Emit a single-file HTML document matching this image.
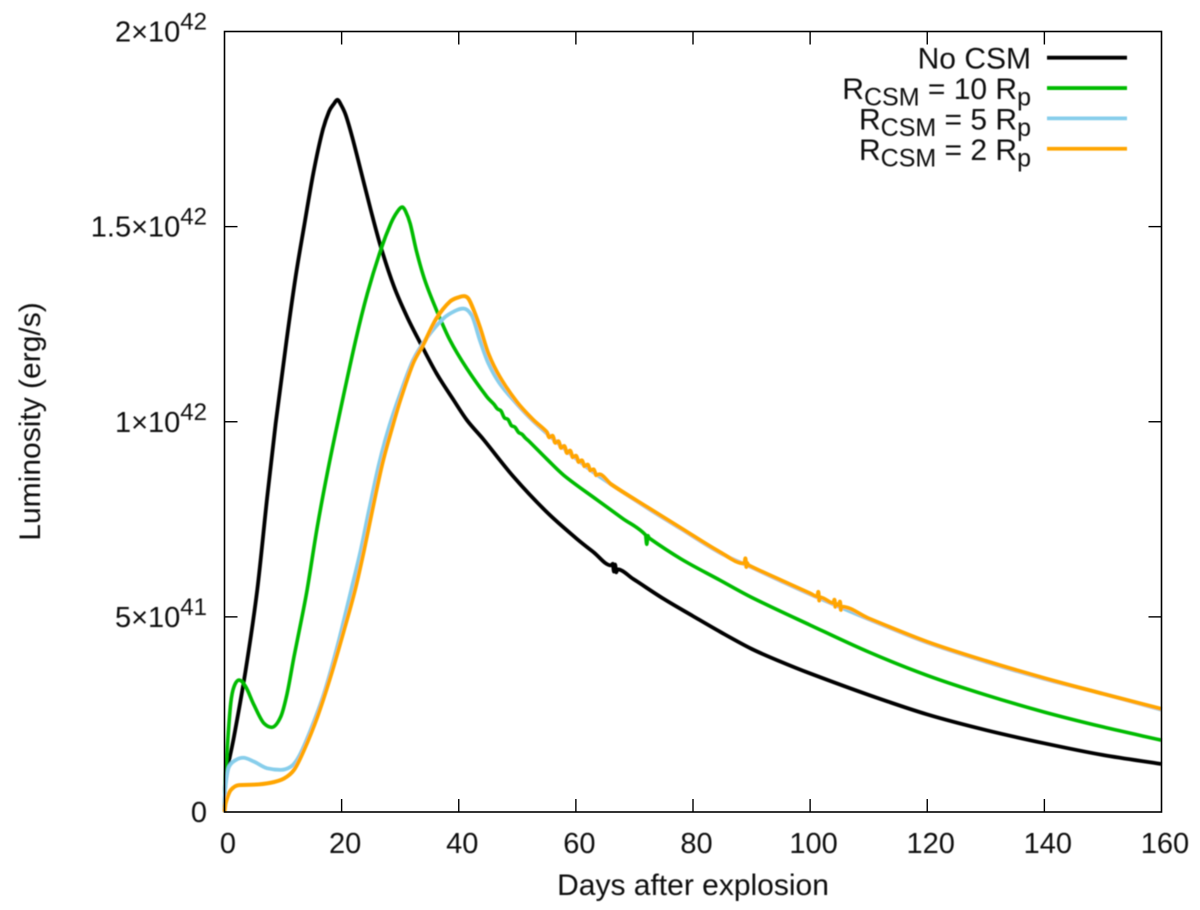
<!DOCTYPE html>
<html lang="en">
<head>
<meta charset="utf-8">
<title>Luminosity vs days after explosion</title>
<style>
html,body{margin:0;padding:0;background:#fff;width:1200px;height:910px;overflow:hidden}
svg{display:block}
text{font-family:"Liberation Sans",Arial,sans-serif;fill:#111}
</style>
</head>
<body>
<svg id="chart" xmlns="http://www.w3.org/2000/svg" width="1200" height="910" viewBox="0 0 1200 910">
<defs><filter id="soft" x="-5%" y="-5%" width="110%" height="110%"><feGaussianBlur stdDeviation="0.45"/></filter></defs>
<g id="marks" filter="url(#soft)"></g>
<g id="frame"></g>
<g id="labels" filter="url(#soft)"></g>
<g id="legend" filter="url(#soft)"></g>
</svg>
<script>
const xTickValues = [0, 20, 40, 60, 80, 100, 120, 140, 160];
const yTickValues = [0, 5, 10, 15, 20];
const yTickMantissas = ["0", "5×10", "1×10", "1.5×10", "2×10"];
const yTickExponents = ["", "41", "42", "42", "42"];

const blackDays = [0,0.1,0.48,1.62,3.62,5.6,7.3,8.74,10.6,12.15,13.58,15.17,16.7,17.85,18.7,19.27,19.9,20.7,21.8,23.25,24.97,26.67,28.95,31.2,33.5,36.2,39.1,41.4,44.2,49.3,55,60,63,66,66.3,66.5,66.7,66.9,67.1,69.8,75,80,84.6,90,95,100,110,120,130,140,150,160];
const blackLum = [0,0.6,1.08,1.93,3.64,5.7,8.08,9.96,12.09,13.72,15,16.37,17.43,17.95,18.15,18.25,18.12,17.86,17.3,16.45,15.43,14.49,13.46,12.68,12,11.24,10.56,10.04,9.55,8.6,7.69,7.02,6.66,6.32,6.36,6.16,6.34,6.14,6.22,5.97,5.46,5.02,4.62,4.18,3.85,3.55,3,2.5,2.1,1.76,1.46,1.23];

const greenDays = [0,0.12,0.48,1.06,1.62,2.48,3.62,5.04,6.75,8.06,9.6,10.7,11.87,13.3,14.14,15.85,17.55,19.55,22.4,24.4,26.67,28.4,29.5,30.37,30.9,31.7,32.8,34.2,36.2,38.5,41.35,44.8,46,46.6,47.2,47.8,48.4,49,49.6,50.2,50.8,51.4,52,55,58,63.6,68,71.9,72.1,72.3,72.5,78,84.6,90,100,110,120,130,140,150,160];
const greenLum = [0,0.7,1.67,2.78,3.21,3.38,3.21,2.74,2.27,2.17,2.44,3.04,3.98,5.05,5.72,7.31,8.68,10.13,12.09,13.29,14.4,15.08,15.38,15.5,15.4,15.08,14.36,13.63,12.86,12.09,11.37,10.64,10.45,10.33,10.28,10.1,10.06,9.9,9.86,9.73,9.68,9.58,9.5,9.05,8.62,8,7.52,7.1,6.86,7.08,7.02,6.48,5.94,5.5,4.79,4.1,3.5,3,2.56,2.18,1.84];

const blueDays = [0,0.1,0.77,1.9,3.2,5.04,7.3,9.6,11.3,12.7,14.7,17,19.26,21.7,23.26,24.68,26.4,28.1,30.2,32.2,34.5,37.4,39.5,40.8,42.2,43.6,45.05,47,49.9,52.7,56.4,60,63.6,72.2,78,84.6,90,95,100,110,120,130,140,150,160];
const blueLum = [0,0.55,1.16,1.33,1.39,1.29,1.12,1.08,1.16,1.42,2.1,3.04,4.24,5.73,6.71,7.74,8.93,9.87,10.8,11.58,12.14,12.65,12.85,12.9,12.73,12.09,11.5,10.98,10.46,10.02,9.52,9.06,8.64,7.79,7.25,6.64,6.27,5.92,5.58,4.94,4.34,3.85,3.41,3.03,2.62];

const orangeDays = [0,0.2,1.06,2.48,5.04,7.9,10.16,11.87,13.58,15.85,18.1,20.4,22.3,23.82,25.24,26.95,28.66,30,32.2,33.95,36.2,38.5,40.2,40.9,41.5,42.2,43.6,45.05,47,49.9,52.7,55,55.5,56,56.5,57,57.5,58,58.5,59,59.5,60,60.5,61,61.5,62,62.5,63,63.5,64,66,72.2,78,84.6,88.8,88.95,89.1,89.25,89.4,95,100,101.25,101.4,101.55,101.7,104,104.15,104.3,104.45,104.95,105.1,105.25,105.4,110,120,130,140,150,160];
const orangeLum = [0,0.23,0.56,0.69,0.7,0.75,0.86,1.08,1.59,2.44,3.47,4.66,5.7,6.71,7.74,8.93,9.87,10.55,11.5,11.98,12.65,13.08,13.2,13.22,13.18,12.99,12.43,11.75,11.15,10.51,10.05,9.74,9.6,9.64,9.46,9.5,9.33,9.38,9.2,9.26,9.09,9.13,8.97,9.01,8.86,8.9,8.75,8.78,8.63,8.65,8.4,7.81,7.27,6.66,6.37,6.5,6.28,6.38,6.33,5.94,5.6,5.52,5.64,5.42,5.5,5.35,5.44,5.26,5.33,5.29,5.39,5.18,5.26,4.96,4.36,3.87,3.43,3.03,2.64];

const seriesNames = ["no-csm", "rcsm-10", "rcsm-5", "rcsm-2"];
const seriesColors = ["#000000", "#00bb00", "#87ceeb", "#ffa500"];

const NS = "http://www.w3.org/2000/svg";
const plot = { left: 224.5, right: 1161.5, top: 31.5, bottom: 812 };
const xDomainMax = 160, yDomainMax = 20;
function xScale(v) { return plot.left + (v / xDomainMax) * (plot.right - plot.left); }
function yScale(v) { return plot.bottom - (v / yDomainMax) * (plot.bottom - plot.top); }

function make(tag, attrs, parent, txt) {
  const el = document.createElementNS(NS, tag);
  for (const k in attrs) el.setAttribute(k, attrs[k]);
  if (txt !== undefined) el.textContent = txt;
  parent.appendChild(el);
  return el;
}

/* monotone cubic path through the data points */
function monotonePath(xs, ys) {
  const n = xs.length, px = xs.map(xScale), py = ys.map(yScale);
  const s = [], m = [];
  for (let i = 0; i < n - 1; i++) s[i] = (py[i + 1] - py[i]) / (px[i + 1] - px[i]);
  m[0] = s[0]; m[n - 1] = s[n - 2];
  for (let i = 1; i < n - 1; i++) {
    if (s[i - 1] * s[i] <= 0) { m[i] = 0; continue; }
    const h0 = px[i] - px[i - 1], h1 = px[i + 1] - px[i];
    const w = (h0 * s[i - 1] + h1 * s[i]) / (h0 + h1);
    const lim = 2 * Math.min(Math.abs(s[i - 1]), Math.abs(s[i]));
    m[i] = Math.sign(w) * Math.min(Math.abs(w), lim);
  }
  let d = "M" + px[0].toFixed(2) + " " + py[0].toFixed(2);
  for (let i = 0; i < n - 1; i++) {
    const h = (px[i + 1] - px[i]) / 3;
    d += "C" + (px[i] + h).toFixed(2) + " " + (py[i] + m[i] * h).toFixed(2) + " " +
      (px[i + 1] - h).toFixed(2) + " " + (py[i + 1] - m[i + 1] * h).toFixed(2) + " " +
      px[i + 1].toFixed(2) + " " + py[i + 1].toFixed(2);
  }
  return d;
}

const marks = document.getElementById("marks");
const frame = document.getElementById("frame");
const labels = document.getElementById("labels");
const legend = document.getElementById("legend");

const allX = [blackDays, greenDays, blueDays, orangeDays];
const allY = [blackLum, greenLum, blueLum, orangeLum];
const widths = [3.8, 3.6, 3.8, 4];
allX.forEach(function (xs, i) {
  const p = make("path", { d: monotonePath(xs, allY[i]), fill: "none", stroke: seriesColors[i], "stroke-width": widths[i], "stroke-linejoin": "round" }, marks);
  
  
});

const border = make("rect", { x: plot.left, y: plot.top, width: plot.right - plot.left, height: plot.bottom - plot.top, fill: "none", stroke: "#000", "stroke-width": 1.6 }, frame);



const tickLen = 13;
xTickValues.forEach(function (v) {
  const x = xScale(v);
  if (v > 0 && v < xDomainMax) {
    const b = make("line", { x1: x, x2: x, y1: plot.bottom, y2: plot.bottom - tickLen, stroke: "#000", "stroke-width": 1.4 }, frame);
    
    
    const t = make("line", { x1: x, x2: x, y1: plot.top, y2: plot.top + tickLen, stroke: "#000", "stroke-width": 1.4 }, frame);
    
    
  }
  const lab = make("text", { x: x + 3.5, y: 853, "text-anchor": "middle", "font-size": 29 }, labels, String(v));
  
  
});

yTickValues.forEach(function (v, i) {
  const y = yScale(v);
  if (v > 0 && v < yDomainMax) {
    const l = make("line", { x1: plot.left, x2: plot.left + tickLen, y1: y, y2: y, stroke: "#000", "stroke-width": 1.4 }, frame);
    
    
    const r = make("line", { x1: plot.right, x2: plot.right - tickLen, y1: y, y2: y, stroke: "#000", "stroke-width": 1.4 }, frame);
    
    
  }
  const lab = make("text", { x: 207, y: y + 10, "text-anchor": "end", "font-size": 29 }, labels);
  
  
  make("tspan", {}, lab, yTickMantissas[i]);
  if (yTickExponents[i]) make("tspan", { dy: -12, "font-size": 24 }, lab, yTickExponents[i]);
});

const xt = make("text", { x: 693, y: 895, "text-anchor": "middle", "font-size": 30 }, labels, "Days after explosion");


const yt = make("text", { x: 0, y: 0, transform: "translate(40,421.5) rotate(-90)", "text-anchor": "middle", "font-size": 30 }, labels, "Luminosity (erg/s)");



const legendParts = [["No CSM"], ["R", "CSM", " = 10 R", "p"], ["R", "CSM", " = 5 R", "p"], ["R", "CSM", " = 2 R", "p"]];
legendParts.forEach(function (parts, i) {
  const y = 57.7 + i * 30.35;
  const t = make("text", { x: 1031, y: y + 11, "text-anchor": "end", "font-size": 30 }, legend);
  
  
  if (parts.length === 1) {
    make("tspan", {}, t, parts[0]);
  } else {
    make("tspan", {}, t, parts[0]);
    make("tspan", { dy: 6.5, "font-size": 25 }, t, parts[1]);
    make("tspan", { dy: -6.5 }, t, parts[2]);
    make("tspan", { dy: 6.5, "font-size": 25 }, t, parts[3]);
  }
  const sw = make("line", { x1: 1047, x2: 1127, y1: y, y2: y, stroke: seriesColors[i], "stroke-width": 3.8 }, legend);
  
  
});
</script>
</body>
</html>
